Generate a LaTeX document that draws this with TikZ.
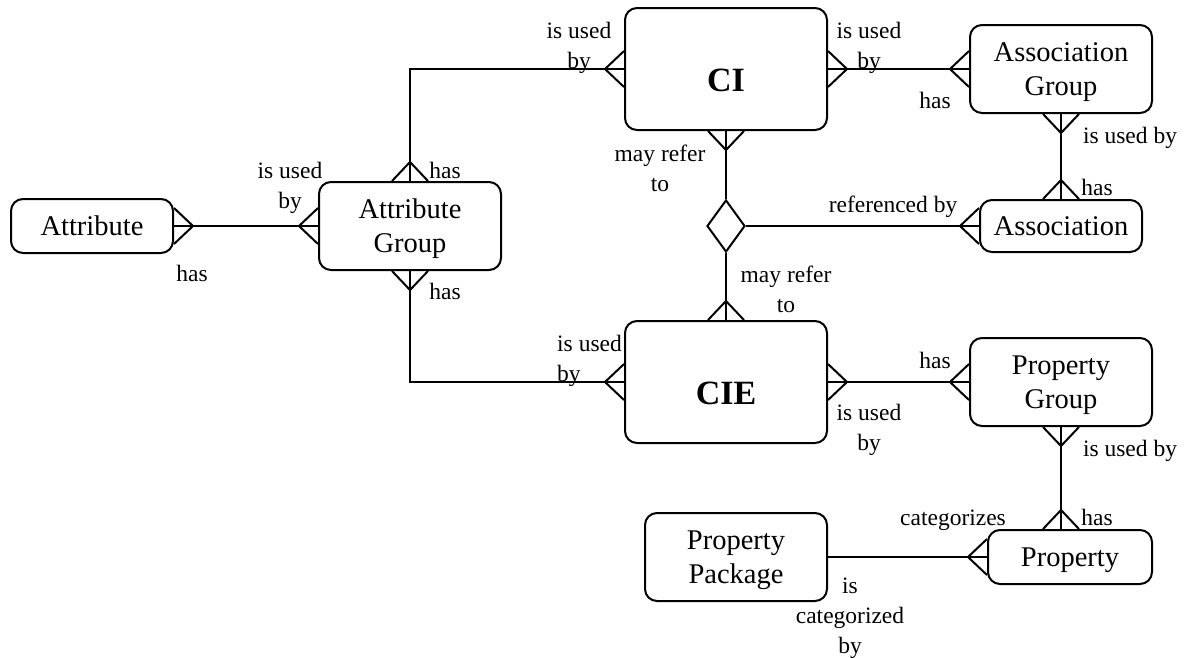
\documentclass[tikz,border=0pt]{standalone}
\usepackage{fontspec}
\setmainfont{Liberation Serif}
\usetikzlibrary{shapes.geometric,arrows.meta}

% crow's foot end
\pgfdeclarearrow{
  name = Crow,
  parameters = {\the\pgfarrowlength,\the\pgfarrowwidth},
  setup code = {
    \pgfarrowssettipend{0pt}
    \pgfarrowssetbackend{-\pgfarrowlength}
    \pgfarrowssetlineend{0pt}
    \pgfarrowsupperhullpoint{0pt}{.5\pgfarrowwidth}
    \pgfarrowsupperhullpoint{-\pgfarrowlength}{0pt}
    \pgfarrowssavethe\pgfarrowlength
    \pgfarrowssavethe\pgfarrowwidth
  },
  drawing code = {
    \pgfpathmoveto{\pgfqpoint{0pt}{.5\pgfarrowwidth}}
    \pgfpathlineto{\pgfqpoint{-\pgfarrowlength}{0pt}}
    \pgfpathlineto{\pgfqpoint{0pt}{-.5\pgfarrowwidth}}
    \pgfusepathqstroke
  },
  defaults = {length = 19pt, width = 36pt}
}

\begin{document}
\begin{tikzpicture}[
  x=1pt, y=-1pt,
  entity/.style={rectangle, draw, rounded corners=12pt, line width=2pt, align=center, inner sep=2pt,
    text height=18.9pt, text depth=0pt, font=\fontsize{28.5}{34}\selectfont},
  twoline/.style={text height=60pt, text depth=7.1pt},
  mainentity/.style={entity, text height=45.5pt, text depth=0pt, font=\fontsize{34}{40}\selectfont\bfseries},
  role/.style={align=center, inner sep=0pt, font=\fontsize{23.5}{30}\selectfont},
  rel/.style={line width=2pt}
]
\useasboundingbox (0,0) rectangle (1184,657);

\node[entity, minimum width=162pt, minimum height=54pt] (attr) at (92,226) {Attribute};
\node[entity, twoline, minimum width=182pt, minimum height=88pt] (agrp) at (410,226) {Attribute\\Group};
\node[mainentity, minimum width=202pt, minimum height=122pt] (ci) at (726,69) {CI};
\node[mainentity, minimum width=202pt, minimum height=122pt] (cie) at (726,382) {CIE};
\node[entity, twoline, minimum width=182pt, minimum height=88pt] (agp) at (1061,69) {Association\\Group};
\node[entity, minimum width=162pt, minimum height=52pt] (assoc) at (1061,226) {Association};
\node[entity, twoline, minimum width=182pt, minimum height=88pt] (pgp) at (1061,382) {Property\\Group};
\node[entity, minimum width=164pt, minimum height=54pt] (prop) at (1070,557) {Property};
\node[entity, twoline, minimum width=182pt, minimum height=88pt] (ppkg) at (736,557) {Property\\Package};
\node[diamond, draw, line width=2pt, minimum width=38pt, minimum height=52pt, inner sep=0pt] (ref) at (726,226) {};

% Relationships
\draw[rel, Crow-Crow] (attr.east) -- (agrp.west);
\draw[rel, Crow-Crow] (agrp.north) |- (ci.west);
\draw[rel, Crow-Crow] (agrp.south) |- (cie.west);
\draw[rel, Crow-Crow] (ci.east) -- (agp.west);
\draw[rel, Crow-Crow] (agp.south) -- (assoc.north);
\draw[rel, Crow-] (ci.south) -- (ref.north);
\draw[rel, -Crow] (ref.south) -- (cie.north);
\draw[rel, -Crow] (ref.east) -- (assoc.west);
\draw[rel, Crow-Crow] (cie.east) -- (pgp.west);
\draw[rel, Crow-Crow] (pgp.south) -- (pgp.south |- prop.north);
\draw[rel, -Crow] (ppkg.east) -- (prop.west);

% Role names
\node[role] (r1) at (290,188) {is used\\by};
\node[role] (r2) at (192,273) {has};
\node[role] (r3) at (445,170) {has};
\node[role] (r4) at (579,48) {is used\\by};
\node[role] (r5) at (445,291) {has};
\node[role, align=left, anchor=west] (r6) at (557,361) {is used\\by};
\node[role] (r7) at (869,48) {is used\\by};
\node[role] (r8) at (935,100) {has};
\node[role] (r9) at (1130,138) {is used by};
\node[role] (r10) at (1097,187) {has};
\node[role] (r11) at (660,168) {may refer\\to};
\node[role] (r12) at (786,289) {may refer\\to};
\node[role] (r13) at (893,207) {referenced by};
\node[role] (r14) at (935,360) {has};
\node[role] (r15) at (869,430) {is used\\by};
\node[role] (r16) at (1130,451) {is used by};
\node[role] (r17) at (1097,517) {has};
\node[role] (r18) at (953,520) {categorizes};
\node[role] (r19) at (850,618) {is\\categorized\\by};
\end{tikzpicture}
\end{document}
